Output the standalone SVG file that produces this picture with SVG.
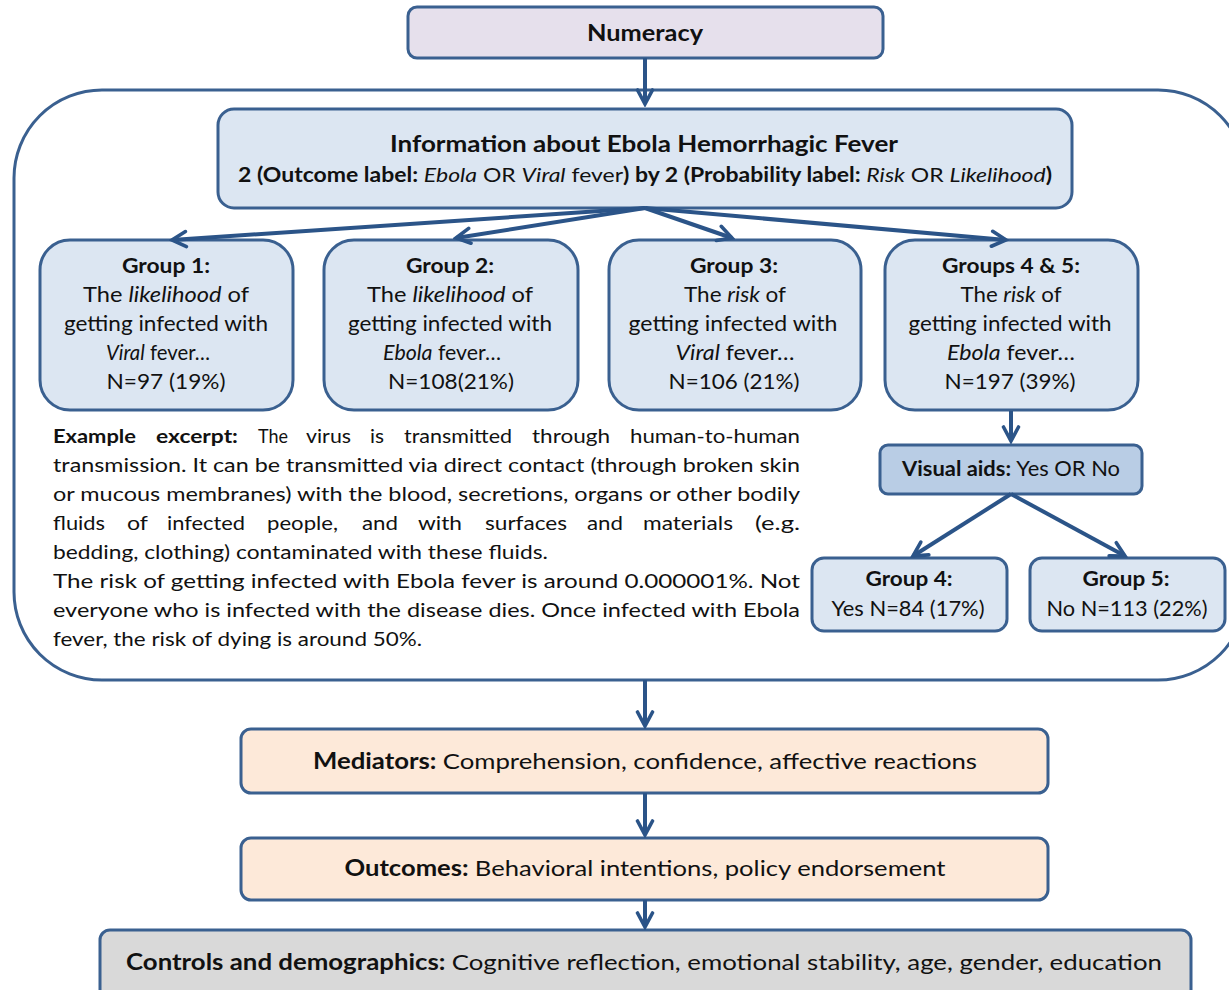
<svg xmlns="http://www.w3.org/2000/svg" width="1229" height="990" viewBox="0 0 1229 990">
  <defs>
    <style>
      text { font-family: Lato, "Open Sans", "Liberation Sans", sans-serif; fill: #111; }
      .b { font-weight: bold; }
      .i { font-style: italic; }
      .box { stroke: #3a6090; stroke-width: 3; }
      .lav { fill: #e6e0ec; }
      .lb { fill: #dce6f2; }
      .mb { fill: #b9cde5; }
      .pe { fill: #fde9d9; }
      .gr { fill: #d9d9d9; }
      .conn { stroke: #2b5488; stroke-width: 4; fill: none; marker-end: url(#arr); }
      .g { font-size: 20.5px; text-anchor: middle; }
      .p { font-size: 19.5px; }
    </style>
    <marker id="arr" viewBox="0 0 20 20" refX="17" refY="10" markerWidth="20" markerHeight="20" orient="auto" markerUnits="userSpaceOnUse">
      <path d="M3,2.5 L17,10 L3,17.5" fill="none" stroke="#2b5488" stroke-width="3.6" stroke-linejoin="miter" stroke-linecap="round"/>
    </marker>
  </defs>

  <!-- outer container for the experimental manipulation -->
  <rect id="container" x="14" y="90" width="1232" height="590" rx="88" ry="88" fill="none" stroke="#3a6090" stroke-width="3"/>

  <g id="numeracy">
    <rect class="box lav" x="408" y="7" width="475" height="51" rx="9"/>
    <text class="b" x="645" y="41" font-size="22" text-anchor="middle" textLength="116" lengthAdjust="spacingAndGlyphs">Numeracy</text>
  </g>

  <g id="information">
    <rect class="box lb" x="218" y="109" width="854" height="99" rx="16"/>
    <text class="b" x="644" y="152" font-size="22" text-anchor="middle" textLength="508" lengthAdjust="spacingAndGlyphs">Information about Ebola Hemorrhagic Fever</text>
    <text x="645" y="182" font-size="20" text-anchor="middle" textLength="814" lengthAdjust="spacingAndGlyphs"><tspan class="b">2 (Outcome label: </tspan><tspan class="i">Ebola</tspan> OR <tspan class="i">Viral</tspan> fever<tspan class="b">) by 2 (Probability label: </tspan><tspan class="i">Risk</tspan> OR <tspan class="i">Likelihood</tspan><tspan class="b">)</tspan></text>
  </g>

  <g id="group1">
    <rect class="box lb" x="40" y="240" width="253" height="170" rx="30"/>
    <text class="g b" x="166" y="273" textLength="88" lengthAdjust="spacingAndGlyphs">Group 1:</text>
    <text class="g" x="166" y="302" textLength="166" lengthAdjust="spacingAndGlyphs">The <tspan class="i">likelihood</tspan>  of</text>
    <text class="g" x="166" y="331" textLength="204" lengthAdjust="spacingAndGlyphs">getting infected with</text>
    <text class="g" x="158" y="360" textLength="104" lengthAdjust="spacingAndGlyphs"><tspan class="i">Viral</tspan> fever…</text>
    <text class="g" x="166" y="389" textLength="119" lengthAdjust="spacingAndGlyphs">N=97 (19%)</text>
  </g>

  <g id="group2">
    <rect class="box lb" x="324" y="240" width="254" height="170" rx="30"/>
    <text class="g b" x="450" y="273" textLength="88" lengthAdjust="spacingAndGlyphs">Group 2:</text>
    <text class="g" x="450" y="302" textLength="166" lengthAdjust="spacingAndGlyphs">The <tspan class="i">likelihood</tspan>  of</text>
    <text class="g" x="450" y="331" textLength="204" lengthAdjust="spacingAndGlyphs">getting infected with</text>
    <text class="g" x="442" y="360" textLength="118" lengthAdjust="spacingAndGlyphs"><tspan class="i">Ebola</tspan>  fever…</text>
    <text class="g" x="451" y="389" textLength="126" lengthAdjust="spacingAndGlyphs">N=108(21%)</text>
  </g>

  <g id="group3">
    <rect class="box lb" x="609" y="240" width="252" height="170" rx="30"/>
    <text class="g b" x="734" y="273" textLength="88" lengthAdjust="spacingAndGlyphs">Group 3:</text>
    <text class="g" x="735" y="302" textLength="102" lengthAdjust="spacingAndGlyphs">The <tspan class="i">risk</tspan> of</text>
    <text class="g" x="733" y="331" textLength="209" lengthAdjust="spacingAndGlyphs">getting  infected with</text>
    <text class="g" x="735" y="360" textLength="119" lengthAdjust="spacingAndGlyphs"><tspan class="i">Viral</tspan> fever…</text>
    <text class="g" x="734" y="389" textLength="131" lengthAdjust="spacingAndGlyphs">N=106 (21%)</text>
  </g>

  <g id="group45">
    <rect class="box lb" x="885" y="240" width="253" height="170" rx="30"/>
    <text class="g b" x="1011" y="273" textLength="138" lengthAdjust="spacingAndGlyphs">Groups 4 &amp; 5:</text>
    <text class="g" x="1011" y="302" textLength="101" lengthAdjust="spacingAndGlyphs">The <tspan class="i">risk</tspan> of</text>
    <text class="g" x="1010" y="331" textLength="203" lengthAdjust="spacingAndGlyphs">getting infected with</text>
    <text class="g" x="1011" y="360" textLength="128" lengthAdjust="spacingAndGlyphs"><tspan class="i">Ebola</tspan> fever…</text>
    <text class="g" x="1010" y="389" textLength="131" lengthAdjust="spacingAndGlyphs">N=197 (39%)</text>
  </g>

  <g id="visual-aids">
    <rect class="box mb" x="880" y="445" width="262" height="49" rx="8"/>
    <text x="1011" y="476" font-size="20.5" text-anchor="middle" textLength="218" lengthAdjust="spacingAndGlyphs"><tspan class="b">Visual aids: </tspan>Yes OR No</text>
  </g>

  <g id="group4">
    <rect class="box lb" x="812" y="558" width="195" height="73" rx="12"/>
    <text class="g b" x="909" y="586" textLength="87" lengthAdjust="spacingAndGlyphs">Group 4:</text>
    <text class="g" x="908" y="616" textLength="153" lengthAdjust="spacingAndGlyphs">Yes N=84 (17%)</text>
  </g>

  <g id="group5">
    <rect class="box lb" x="1030" y="558" width="195" height="73" rx="12"/>
    <text class="g b" x="1126" y="586" textLength="87" lengthAdjust="spacingAndGlyphs">Group 5:</text>
    <text class="g" x="1127" y="616" textLength="161" lengthAdjust="spacingAndGlyphs">No N=113 (22%)</text>
  </g>

  <!-- justified excerpt paragraph -->
  <g id="excerpt" class="p">
    <text y="443"><tspan class="b" x="53" textLength="83" lengthAdjust="spacingAndGlyphs">Example</tspan><tspan class="b" x="156" textLength="82" lengthAdjust="spacingAndGlyphs">excerpt:</tspan><tspan x="258" textLength="30" lengthAdjust="spacingAndGlyphs">The</tspan><tspan x="306" textLength="45" lengthAdjust="spacingAndGlyphs">virus</tspan><tspan x="370" textLength="14" lengthAdjust="spacingAndGlyphs">is</tspan><tspan x="404" textLength="108" lengthAdjust="spacingAndGlyphs">transmitted</tspan><tspan x="532" textLength="78" lengthAdjust="spacingAndGlyphs">through</tspan><tspan x="630" textLength="170" lengthAdjust="spacingAndGlyphs">human-to-human</tspan></text>
    <text x="53" y="472" textLength="747" lengthAdjust="spacingAndGlyphs">transmission. It can be transmitted via direct contact (through broken skin</text>
    <text x="53" y="501" textLength="747" lengthAdjust="spacingAndGlyphs">or mucous membranes) with the blood, secretions, organs or other bodily</text>
    <text y="530"><tspan x="53" textLength="52" lengthAdjust="spacingAndGlyphs">fluids</tspan><tspan x="127" textLength="21" lengthAdjust="spacingAndGlyphs">of</tspan><tspan x="167" textLength="78" lengthAdjust="spacingAndGlyphs">infected</tspan><tspan x="267" textLength="71" lengthAdjust="spacingAndGlyphs">people,</tspan><tspan x="362" textLength="36" lengthAdjust="spacingAndGlyphs">and</tspan><tspan x="418" textLength="44" lengthAdjust="spacingAndGlyphs">with</tspan><tspan x="485" textLength="82" lengthAdjust="spacingAndGlyphs">surfaces</tspan><tspan x="587" textLength="36" lengthAdjust="spacingAndGlyphs">and</tspan><tspan x="643" textLength="90" lengthAdjust="spacingAndGlyphs">materials</tspan><tspan x="755" textLength="45" lengthAdjust="spacingAndGlyphs">(e.g.</tspan></text>
    <text x="53" y="559" textLength="495" lengthAdjust="spacingAndGlyphs">bedding, clothing) contaminated with these fluids.</text>
    <text x="53" y="588" textLength="747" lengthAdjust="spacingAndGlyphs">The risk of getting infected with Ebola fever is around 0.000001%. Not</text>
    <text x="53" y="617" textLength="747" lengthAdjust="spacingAndGlyphs">everyone who is infected with the disease dies. Once infected with Ebola</text>
    <text x="53" y="646" textLength="369" lengthAdjust="spacingAndGlyphs">fever, the risk of dying is around 50%.</text>
  </g>

  <g id="mediators">
    <rect class="box pe" x="241" y="729" width="807" height="64" rx="10"/>
    <text x="645" y="769" font-size="22" text-anchor="middle" textLength="664" lengthAdjust="spacingAndGlyphs"><tspan class="b">Mediators: </tspan>Comprehension,  confidence, affective reactions</text>
  </g>

  <g id="outcomes">
    <rect class="box pe" x="241" y="838" width="807" height="62" rx="10"/>
    <text x="645" y="876" font-size="22" text-anchor="middle" textLength="601" lengthAdjust="spacingAndGlyphs"><tspan class="b">Outcomes: </tspan>Behavioral intentions, policy endorsement</text>
  </g>

  <g id="controls">
    <rect class="box gr" x="100" y="930" width="1091" height="80" rx="10"/>
    <text x="644" y="970" font-size="22" text-anchor="middle" textLength="1036" lengthAdjust="spacingAndGlyphs"><tspan class="b">Controls and demographics: </tspan>Cognitive reflection, emotional stability, age, gender, education</text>
  </g>

  <!-- connectors drawn last so the arrowheads sit on top of the boxes -->
  <g id="connectors">
    <line class="conn" x1="645" y1="58" x2="645" y2="104"/>
    <line class="conn" x1="645" y1="208" x2="172" y2="240"/>
    <line class="conn" x1="645" y1="208" x2="456" y2="238"/>
    <line class="conn" x1="645" y1="208" x2="732" y2="238"/>
    <line class="conn" x1="645" y1="208" x2="1006" y2="240"/>
    <line class="conn" x1="1011" y1="411" x2="1011" y2="441"/>
    <line class="conn" x1="1011" y1="494" x2="913" y2="556"/>
    <line class="conn" x1="1011" y1="494" x2="1125" y2="556"/>
    <line class="conn" x1="645" y1="680" x2="645" y2="726"/>
    <line class="conn" x1="645" y1="793" x2="645" y2="835"/>
    <line class="conn" x1="645" y1="900" x2="645" y2="927"/>
  </g>
</svg>
